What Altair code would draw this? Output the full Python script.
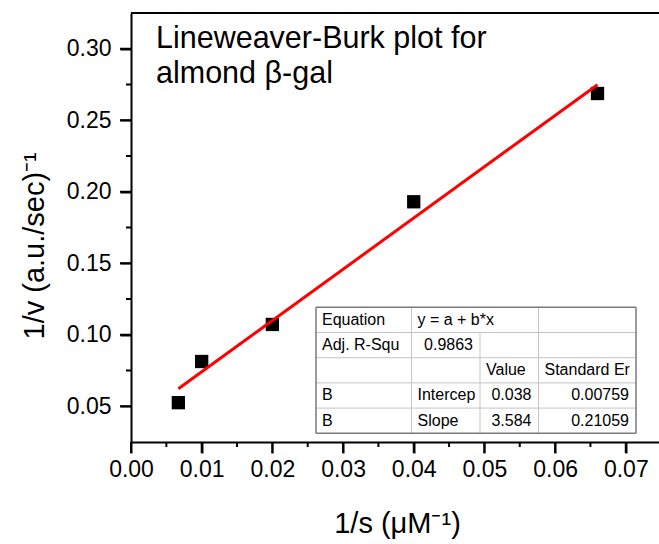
import altair as alt
import pandas as pd

# ---------------- data ----------------
inv_s = [0.0067, 0.0100, 0.0200, 0.0400, 0.0660]          # 1/s (uM^-1)
inv_v = [0.0525, 0.0813, 0.1072, 0.1930, 0.2687]          # 1/v (a.u./sec)^-1

x_major = [0.00, 0.01, 0.02, 0.03, 0.04, 0.05, 0.06, 0.07]
x_minor = [0.005, 0.015, 0.025, 0.035, 0.045, 0.055, 0.065]
y_major = [0.05, 0.10, 0.15, 0.20, 0.25, 0.30]
y_minor = [0.075, 0.125, 0.175, 0.225, 0.275]

title_lines = ["Lineweaver-Burk plot for", "almond \u03b2-gal"]

table_cells = [
    ["Equation", "y = a + b*x", "", ""],
    ["Adj. R-Squ", "0.9863", "", ""],
    ["", "", "Value", "Standard Er"],
    ["B", "Intercep", "0.038", "0.00759"],
    ["B", "Slope", "3.584", "0.21059"],
]

# ---------------- layout ----------------
FONT = "Liberation Sans, Arial, sans-serif"
W, H = 528, 429
PAD_L, PAD_T = 131, 13
MAJ, MIN = 11, 5
col_edges = [185, 280.5, 349, 407.5, 505]      # table column boundaries (px in plot)
row_top, row_h = 294.3, 25.2

df = pd.DataFrame({"x": inv_s, "y": inv_v})

common = dict(tickWidth=2, tickColor="black", domainWidth=2, domainColor="black",
              labelFont=FONT, labelColor="black", labelFlush=False,
              labelOverlap=False, labelBound=False, grid=False, tickSize=MAJ)

x_axis = alt.Axis(
    values=x_major, format=".2f", orient="bottom",
    labelFontSize=23, labelPadding=5, **common,
    title="1/s (\u03bcM\u207b\u00b9)", titleFont=FONT, titleFontSize=29,
    titleFontWeight="normal", titleColor="black",
    titleX=266, titleY=90, titleAlign="center", titleBaseline="alphabetic",
)
y_axis = alt.Axis(
    values=y_major, format=".2f", orient="left",
    labelFontSize=23, labelPadding=9, **common,
    title="1/v (a.u./sec)\u207b\u00b9", titleFont=FONT, titleFontSize=29,
    titleFontWeight="normal", titleColor="black",
    titleX=-88, titleY=326, titleAlign="left", titleAngle=270,
    titleBaseline="alphabetic",
)

xs = alt.Scale(domain=[0, 0.0747], nice=False, zero=False)
ys = alt.Scale(domain=[0.025, 0.325], nice=False, zero=False)

base = alt.Chart(df)
points = base.mark_square(size=177, color="black", opacity=1, filled=True).encode(
    x=alt.X("x:Q", scale=xs, axis=x_axis),
    y=alt.Y("y:Q", scale=ys, axis=y_axis),
)
fit = base.transform_regression("x", "y").mark_line(
    color="#ff0000", strokeWidth=3
).encode(x="x:Q", y="y:Q")

# explicit tick marks (major + minor) through the shared scales
def xticks(vals, length):
    return alt.Chart(pd.DataFrame({"x": vals})).mark_rule(
        color="black", strokeWidth=2
    ).encode(x="x:Q", y=alt.value(H), y2=alt.value(H + length))

def yticks(vals, length):
    return alt.Chart(pd.DataFrame({"y": vals})).mark_rule(
        color="black", strokeWidth=2
    ).encode(y="y:Q", x=alt.value(0), x2=alt.value(-length))

top_frame = alt.Chart(pd.DataFrame({"a": [0]})).mark_rule(
    color="black", strokeWidth=2
).encode(x=alt.value(0), x2=alt.value(W), y=alt.value(0))

# title text
tdf = pd.DataFrame({"t": title_lines, "i": list(range(len(title_lines)))})
title_txt = alt.Chart(tdf).transform_calculate(
    px="25", py="35 + datum.i*35"
).mark_text(align="left", baseline="alphabetic", font=FONT, fontSize=30.5,
            color="black").encode(
    x=alt.X("px:Q", scale=None), y=alt.Y("py:Q", scale=None), text="t:N",
)

# table
nrows = len(table_cells)
tbl_bottom = row_top + nrows * row_h
bg = alt.Chart(pd.DataFrame({"a": [0]})).mark_rect(fill="white").encode(
    x=alt.value(col_edges[0]), x2=alt.value(col_edges[-1]),
    y=alt.value(row_top), y2=alt.value(tbl_bottom),
)

segs = []
for r in range(1, nrows):
    yy = row_top + r * row_h
    segs.append((col_edges[0], col_edges[-1], yy, yy))
for c in range(1, len(col_edges) - 1):
    for r in range(nrows):
        if c == 2 and r == 0:
            continue
        y0 = row_top + r * row_h
        segs.append((col_edges[c], col_edges[c], y0, y0 + row_h))
seg_df = pd.DataFrame(segs, columns=["x1", "x2", "y1", "y2"])
inner = alt.Chart(seg_df).mark_rule(color="#c4c4c4", strokeWidth=1).encode(
    x=alt.X("x1:Q", scale=None), x2="x2:Q",
    y=alt.Y("y1:Q", scale=None), y2="y2:Q",
)
outer_df = pd.DataFrame([
    (col_edges[0], col_edges[-1], row_top, row_top),
    (col_edges[0], col_edges[-1], tbl_bottom, tbl_bottom),
    (col_edges[0], col_edges[0], row_top, tbl_bottom),
    (col_edges[-1], col_edges[-1], row_top, tbl_bottom),
], columns=["x1", "x2", "y1", "y2"])
outer = alt.Chart(outer_df).mark_rule(color="#7a7a7a", strokeWidth=1.5).encode(
    x=alt.X("x1:Q", scale=None), x2="x2:Q",
    y=alt.Y("y1:Q", scale=None), y2="y2:Q",
)

def is_num(s):
    try:
        float(s)
        return True
    except ValueError:
        return False

left_cells, right_cells = [], []
for r, row in enumerate(table_cells):
    for c, txt in enumerate(row):
        if not txt:
            continue
        yb = row_top + r * row_h + 17.5
        if is_num(txt):
            right_cells.append((txt, col_edges[c + 1] - 7, yb))
        else:
            left_cells.append((txt, col_edges[c] + 6, yb))

def cell_layer(cells, align):
    d = pd.DataFrame(cells, columns=["t", "px", "py"])
    return alt.Chart(d).mark_text(
        align=align, baseline="alphabetic", font=FONT, fontSize=16, color="black"
    ).encode(x=alt.X("px:Q", scale=None), y=alt.Y("py:Q", scale=None), text="t:N")

chart = alt.layer(
    points, fit,
    xticks(x_major, MAJ), xticks(x_minor, MIN),
    yticks(y_major, MAJ), yticks(y_minor, MIN),
    top_frame, title_txt, bg, inner, outer,
    cell_layer(left_cells, "left"), cell_layer(right_cells, "right"),
).properties(
    width=W, height=H, autosize="none",
    padding={"left": PAD_L, "top": PAD_T, "right": 0, "bottom": 544 - PAD_T - H},
).configure_view(stroke=None).configure(background="white")

chart.save("out.html", embed_options={"renderer": "svg", "actions": False})
